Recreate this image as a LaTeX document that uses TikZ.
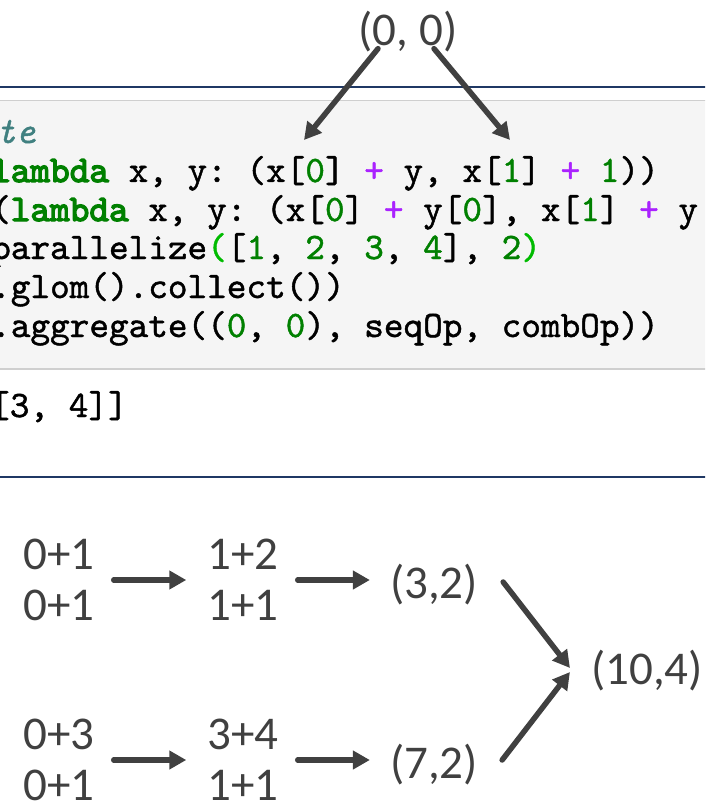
\documentclass[tikz,border=0pt]{standalone}
\usepackage{fontspec}
\usetikzlibrary{arrows.meta}
% fonts: Calibri-like sans for the diagram, Courier-like mono for the code cell
\newfontfamily\calfont{Carlito}
\newfontfamily\codefont{lmmono10-regular.otf}[FakeBold=1.2]
\newfontfamily\codeitfont{lmmono10-italic.otf}[FakeBold=1.2]
\newfontfamily\codebffont{lmmono10-regular.otf}[FakeBold=3.5]
% colours
\definecolor{codebg}{HTML}{F5F5F5}
\definecolor{codeborder}{HTML}{CFCFCF}
\definecolor{navy}{HTML}{1F3864}
\definecolor{inkgray}{HTML}{404040}
\definecolor{cmtteal}{HTML}{408080}
\definecolor{kwgreen}{HTML}{008000}
\definecolor{opviolet}{HTML}{AA22FF}
\definecolor{brgreen}{HTML}{00BB00}
% syntax highlighting helpers
\newcommand\kw[1]{{\codebffont\color{kwgreen}#1}}
\newcommand\nm[1]{{\color{kwgreen}#1}}
\newcommand\op[1]{{\color{opviolet}#1}}
\newcommand\brk[1]{{\color{brgreen}#1}}
\newcommand\cmt[1]{{\codeitfont\color{cmtteal}#1}}
\tikzset{
  codeline/.style={anchor=base west, inner sep=0pt, text=black,
    font=\codefont\fontsize{37.4}{44}\selectfont\frenchspacing},
  dtext/.style={inner sep=0pt, text=inkgray, align=left,
    font=\calfont\fontsize{47}{51}\selectfont},
  arr/.style={draw=inkgray, line width=5.5pt, line cap=round,
    -{Triangle[length=17pt,width=18pt]}},
}
\begin{document}
\begin{tikzpicture}[x=1pt,y=-1pt]
\useasboundingbox (0,0) rectangle (705,805);
\clip (0,0) rectangle (705,805);

% notebook cell background and rules
\fill[codebg] (-5,100) rectangle (710,369);
\draw[codeborder, line width=1.5pt] (-5,100.5) -- (710,100.5);
\draw[codeborder, line width=2pt] (-5,369) -- (710,369);
\draw[navy, line width=2pt] (-5,87.5) -- (710,87.5);
\draw[navy, line width=2.5pt] (-5,477) -- (710,477);

% code cell
\node[codeline] (c1) at (-4,143) {\cmt{te}};
\node[codeline] (c2) at (-9,182) {\kw{lambda} x, y: (x[\nm{0}] \op{+} y, x[\nm{1}] \op{+} \nm{1}))};
\node[codeline] (c3) at (-9,221) {(\kw{lambda} x, y: (x[\nm{0}] \op{+} y[\nm{0}], x[\nm{1}] \op{+} y};
\node[codeline] (c4) at (-9,259) {parallelize\brk{(}[\nm{1}, \nm{2}, \nm{3}, \nm{4}], \nm{2}\brk{)}};
\node[codeline] (c5) at (-9,298) {.glom().collect())};
\node[codeline] (c6) at (-9,337) {.aggregate((\nm{0}, \nm{0}), seqOp, combOp))};
\node[codeline] (out) at (-10,417) {[3, 4]]};

% zero value pointing into the code
\node[dtext] (zero) at (408,32) {(0, 0)};
\coordinate (tipL) at (304,140);
\coordinate (tipR) at (510,140);
\draw[arr] ([xshift=-30pt,yshift=4pt]zero.south) -- (tipL);
\draw[arr] ([xshift=26pt,yshift=4pt]zero.south) -- (tipR);

% partition 1
\node[dtext] (p1) at (59,580) {0+1\\0+1};
\node[dtext] (q1) at (243,580) {1+2\\1+1};
\node[dtext] (r1) at (434,585) {(3,2)};
% partition 2
\node[dtext] (p2) at (59,760) {0+3\\0+1};
\node[dtext] (q2) at (243,760) {3+4\\1+1};
\node[dtext] (r2) at (434,765) {(7,2)};
% combined result
\node[dtext] (s) at (647,671) {(10,4)};

\draw[arr, shorten <=19pt, shorten >=21pt] (p1.east) -- (p1.east -| q1.west);
\draw[arr, shorten <=19pt, shorten >=20pt] (q1.east) -- (q1.east -| r1.west);
\draw[arr, shorten <=19pt, shorten >=21pt] (p2.east) -- (p2.east -| q2.west);
\draw[arr, shorten <=19pt, shorten >=20pt] (q2.east) -- (q2.east -| r2.west);
\draw[arr] ([xshift=25pt,yshift=3pt]r1.east) -- ([xshift=-21pt,yshift=3pt]s.west);
\draw[arr] ([xshift=24pt,yshift=5pt]r2.east) -- ([xshift=-21pt,yshift=-1pt]s.west);
\end{tikzpicture}
\end{document}
